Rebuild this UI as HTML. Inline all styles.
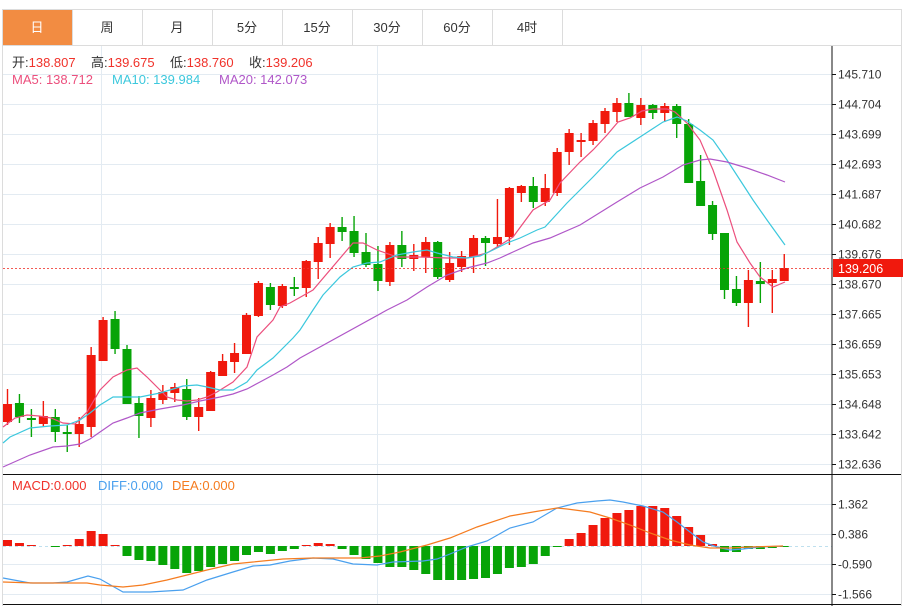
<!DOCTYPE html>
<html><head><meta charset="utf-8">
<style>
html,body{margin:0;padding:0;background:#fff;width:910px;height:606px;overflow:hidden}
svg{display:block;font-family:"Liberation Sans","Noto Sans CJK SC",sans-serif}
</style></head><body>
<svg id="s" width="910" height="606" viewBox="0 0 910 606" xmlns="http://www.w3.org/2000/svg">
<rect x="2.5" y="9.5" width="899" height="600" fill="#fff" stroke="#dcdcdc"/>
<rect x="3" y="10" width="69" height="35" fill="#f28c42"/>
<g stroke="#dcdcdc"><line x1="72.5" y1="10" x2="72.5" y2="45"/><line x1="142.5" y1="10" x2="142.5" y2="45"/><line x1="212.5" y1="10" x2="212.5" y2="45"/><line x1="282.5" y1="10" x2="282.5" y2="45"/><line x1="352.5" y1="10" x2="352.5" y2="45"/><line x1="422.5" y1="10" x2="422.5" y2="45"/><line x1="492.5" y1="10" x2="492.5" y2="45"/><line x1="562.5" y1="10" x2="562.5" y2="45"/><line x1="2" y1="45.5" x2="902" y2="45.5"/></g>
<g font-size="13" fill="#333" text-anchor="middle"><text x="37" y="32" fill="#fff">日</text><text x="107" y="32">周</text><text x="177" y="32">月</text><text x="247" y="32">5分</text><text x="317" y="32">15分</text><text x="387" y="32">30分</text><text x="457" y="32">60分</text><text x="527" y="32">4时</text></g>
<g id="grid" stroke="#e3ebf2" stroke-width="1"></g>
<g font-size="13">
<text x="12" y="67" fill="#333">开:<tspan fill="#f0322a">138.807</tspan></text>
<text x="91" y="67" fill="#333">高:<tspan fill="#f0322a">139.675</tspan></text>
<text x="170" y="67" fill="#333">低:<tspan fill="#f0322a">138.760</tspan></text>
<text x="249" y="67" fill="#333">收:<tspan fill="#f0322a">139.206</tspan></text>
<text x="12" y="84" fill="#ec4f7d">MA5: 138.712</text>
<text x="112" y="84" fill="#3cc8dd">MA10: 139.984</text>
<text x="219" y="84" fill="#b057c8">MA20: 142.073</text>
<text x="12" y="490" fill="#f0322a">MACD:0.000</text>
<text x="98" y="490" fill="#4aa0ee">DIFF:0.000</text>
<text x="172" y="490" fill="#f57c20">DEA:0.000</text>
</g>
<g id="c"></g>
<line x1="3" y1="268.5" x2="832" y2="268.5" stroke="#f0322a" stroke-dasharray="2,2" opacity="0.8"/>
<line x1="3" y1="474.5" x2="901" y2="474.5" stroke="#111"/>
<line x1="3" y1="604.5" x2="901" y2="604.5" stroke="#111"/>
<line x1="832" y1="46" x2="832" y2="606" stroke="#111"/>
<g id="ax" font-size="12" fill="#333"></g>
<rect x="833" y="259" width="70" height="18" fill="#f0190d"/>
<text x="838" y="273" font-size="12.5" fill="#fff">139.206</text>
</svg>
<script>
var NS="http://www.w3.org/2000/svg",s=document.getElementById('s');
function el(p,t,a,tx){var e=document.createElementNS(NS,t);for(var k in a)e.setAttribute(k,a[k]);if(tx)e.textContent=tx;document.getElementById(p).appendChild(e);return e;}
var pl=[74,104,134,164,194,224,254,284,314,344,374,404,434,464],lab=["145.710","144.704","143.699","142.693","141.687","140.682","139.676","138.670","137.665","136.659","135.653","134.648","133.642","132.636"];
pl.forEach(function(y,i){el('grid','line',{x1:3,y1:y+.5,x2:832,y2:y+.5});el('ax','line',{x1:832,y1:y+.5,x2:836,y2:y+.5,stroke:'#111'});el('ax','text',{x:838,y:y+4.5},lab[i]);});
var ml=[504,534,564,594],mlab=["1.362","0.386","-0.590","-1.566"];
ml.forEach(function(y,i){el('grid','line',{x1:3,y1:y+.5,x2:832,y2:y+.5});el('ax','line',{x1:832,y1:y+.5,x2:836,y2:y+.5,stroke:'#111'});el('ax','text',{x:838,y:y+4.5},mlab[i]);});
[101,377,641].forEach(function(x){el('grid','line',{x1:x+.5,y1:46,x2:x+.5,y2:604});});
el('grid','line',{x1:3,y1:546.5,x2:832,y2:546.5,stroke:'#bfe0ee','stroke-dasharray':'3,3'});
var C=[[422,404,389,425],[403,417,394,423],[418,420,409,437],[424,416,401,426],[417,432,409,442],[432,434,425,452],[434,424,417,447],[427,355,347,437],[361,320,317,361],[319,349,311,354],[349,404,345,404],[403,416,396,438],[418,398,390,427],[400,392,385,404],[393,387,383,402],[389,417,379,420],[417,407,398,431],[411,372,371,411],[376,361,354,376],[362,353,343,373],[354,315,313,354],[316,283,281,317],[287,305,283,310],[306,286,284,308],[287,289,277,296],[288,261,260,297],[262,243,237,279],[244,227,223,258],[227,232,217,241],[231,253,216,257],[252,265,233,267],[264,281,246,291],[282,245,242,286],[245,259,231,267],[259,255,244,271],[257,242,237,273],[242,277,241,279],[280,263,252,282],[267,256,251,272],[257,238,235,273],[238,243,236,266],[244,237,199,248],[237,188,187,245],[193,186,185,202],[186,202,177,208],[202,188,174,206],[193,152,148,196],[152,133,129,165],[142,140,133,157],[141,123,120,145],[124,111,108,133],[112,103,98,122],[103,117,93,117],[118,105,98,125],[105,113,104,119],[113,106,103,122],[106,124,104,138],[124,183,119,183],[181,206,155,206],[205,234,201,240],[233,290,233,299],[289,303,276,306],[303,280,270,327],[281,284,262,303],[283,279,270,313],[281,268,254,281]];
var R='#f0190d',G='#07a407';
C.forEach(function(c,k){var x=3+11.95*k,cx=x+4.5,col=c[1]<c[0]?R:(c[1]>c[0]?G:R);
el('c','line',{x1:cx,y1:c[2],x2:cx,y2:c[3],stroke:col,'stroke-width':1.4});
var t=Math.min(c[0],c[1]),h=Math.max(Math.abs(c[1]-c[0]),2);el('c','rect',{x:x,y:t,width:9,height:h,fill:col});});
var M=[540,543,545,546,547,545,539,531,534,545,556,560,561,565,569,573,571,567,564,561,555,552,554,551,549,545,543,544,549,555,559,563,567,567,570,574,580,580,580,579,578,574,568,567,564,556,547,539,533,525,518,513,510,506,506,508,516,527,535,544,552,552,549,549,548,547];
M.forEach(function(v,k){var x=3+11.95*k;if(v==546)return;var t=Math.min(v,546),h=Math.abs(v-546);el('c','rect',{x:x,y:t,width:9,height:h,fill:v<546?R:G});});
function line(pts,col){el('c','polyline',{points:pts.map(function(p){return p.join(',')}).join(' '),fill:'none',stroke:col,'stroke-width':1.2});}
line([[3,427],[15,418],[27,415],[39,416],[51,418],[63,423],[75,424],[87,412],[100,390],[113,377],[127,370],[137,368],[147,377],[157,387],[167,397],[177,400],[187,401],[197,400],[207,397],[217,392],[233,382],[247,367],[257,337],[273,320],[280,307],[290,303],[313,290],[353,243],[363,243],[377,250],[397,257],[420,257],[447,258],[467,258],[487,253],[497,247],[513,237],[533,210],[550,200],[560,183],[580,162],[593,150],[607,135],[618,122],[630,118],[642,111],[653,109],[667,109],[675,112],[687,123],[700,140],[713,170],[727,210],[737,242],[750,263],[760,277],[773,287],[785,282]],'#ec4f7d');
line([[3,443],[10,437],[30,428],[50,426],[67,425],[80,420],[90,413],[100,405],[113,397],[140,397],[160,393],[183,386],[197,385],[207,387],[220,390],[233,390],[247,382],[257,370],[273,358],[293,338],[300,330],[313,310],[323,295],[340,277],[353,267],[367,263],[380,262],[397,255],[413,252],[427,250],[437,253],[453,257],[467,258],[480,256],[493,250],[507,243],[520,238],[537,230],[545,227],[567,203],[593,177],[617,152],[640,137],[663,122],[677,117],[687,121],[700,130],[713,140],[727,160],[740,180],[753,200],[767,220],[785,245]],'#3cc8dd');
line([[3,467],[30,455],[53,447],[67,446],[80,444],[90,439],[100,432],[113,423],[127,418],[140,413],[160,409],[183,405],[200,401],[220,397],[233,394],[247,389],[260,382],[273,375],[287,367],[300,358],[387,310],[407,300],[427,287],[447,275],[467,268],[487,263],[500,258],[513,252],[533,243],[550,238],[580,225],[617,202],[640,188],[663,177],[683,165],[700,160],[710,159],[727,162],[747,168],[767,175],[785,182]],'#b057c8');
line([[3,578],[30,583],[53,583],[67,582],[88,576],[100,579],[123,592],[150,592],[183,590],[207,580],[233,572],[253,566],[270,565],[290,561],[313,558],[333,559],[353,564],[377,565],[393,562],[423,561],[437,559],[450,554],[467,547],[487,541],[510,528],[533,522],[557,508],[577,503],[597,501],[610,500],[623,502],[643,506],[663,512],[677,522],[690,532],[703,542],[717,547],[730,550],[743,549],[760,547],[783,546]],'#4aa0ee');
line([[3,582],[33,583],[67,583],[87,583],[100,585],[123,587],[143,585],[167,580],[187,575],[207,570],[233,564],[253,562],[283,559],[313,558],[360,558],[380,556],[400,552],[427,545],[450,538],[477,527],[510,516],[533,512],[557,508],[567,509],[590,512],[610,518],[630,525],[650,533],[670,540],[690,545],[710,548],[730,548],[750,547],[783,546]],'#f57c20');
</script>
</body></html>
